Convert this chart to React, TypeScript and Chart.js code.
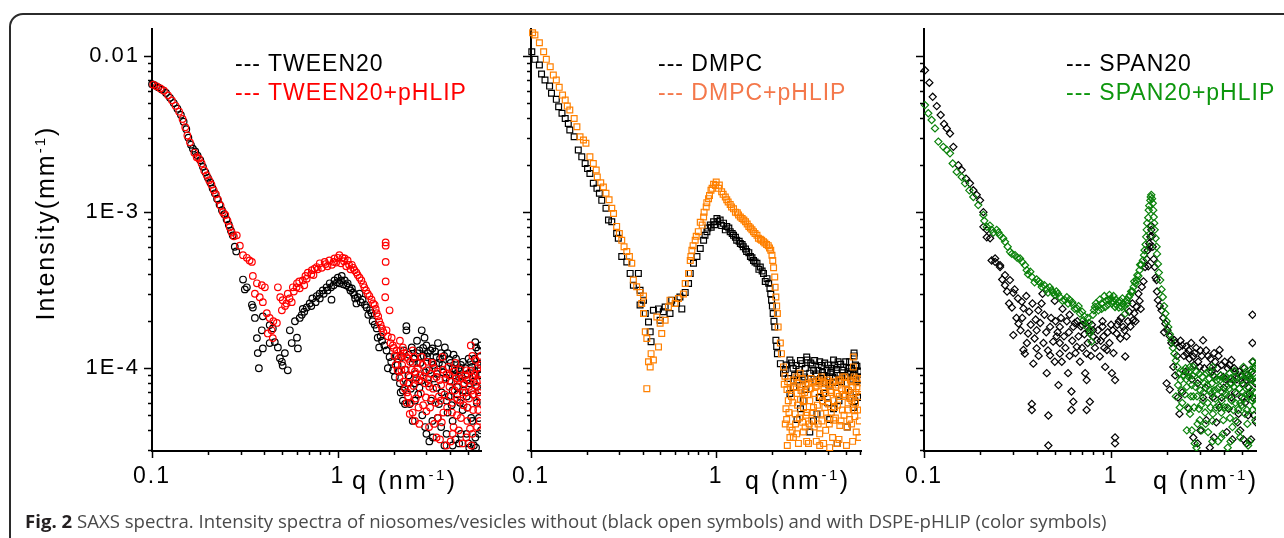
import React, { useEffect, useRef } from 'react';
import { Chart, registerables } from 'chart.js';

Chart.register(...registerables);

const FONT = '"Liberation Sans", Arial, Helvetica, sans-serif';

// ---------- axis data ----------
const yMin = 2.95e-5;
const yMax = 0.0149;
const xMin = 0.1;
const xTickValues = [0.1, 0.2, 0.3, 0.4, 0.5, 0.6, 0.7, 0.8, 0.9, 1, 2, 3, 4, 5, 6];
const xMajorTicks = [0.1, 1];
const xMajorLabels = ['0.1', '1'];
const yTickValues = [
  3e-5, 4e-5, 5e-5, 6e-5, 7e-5, 8e-5, 9e-5,
  1e-4, 2e-4, 3e-4, 4e-4, 5e-4, 6e-4, 7e-4, 8e-4, 9e-4,
  1e-3, 2e-3, 3e-3, 4e-3, 5e-3, 6e-3, 7e-3, 8e-3, 9e-3,
  1e-2,
];
const yMajorTicks = [0.01, 0.001, 0.0001];
const yMajorLabels = ['0.01', '1E-3', '1E-4'];

// ---------- series data: [q (nm^-1), intensity (mm^-1)] ----------
const tweenBlack: [number, number][] = [
  [0.100, 6.6e-3], [0.103, 6.5e-3], [0.108, 6.3e-3], [0.113, 6.1e-3], [0.119, 5.8e-3], [0.125, 5.4e-3],
  [0.131, 5.0e-3], [0.137, 4.6e-3], [0.143, 4.2e-3], [0.148, 3.8e-3], [0.153, 3.4e-3], [0.157, 3.0e-3],
  [0.162, 2.7e-3], [0.166, 2.55e-3], [0.171, 2.45e-3], [0.176, 2.3e-3], [0.182, 2.15e-3], [0.188, 1.95e-3],
  [0.194, 1.8e-3], [0.200, 1.66e-3], [0.206, 1.55e-3], [0.212, 1.42e-3], [0.218, 1.32e-3], [0.224, 1.22e-3],
  [0.231, 1.12e-3], [0.238, 1.03e-3], [0.245, 9.7e-4], [0.252, 9.0e-4], [0.259, 8.3e-4], [0.266, 7.6e-4],
  [0.272, 7.1e-4], [0.279, 6.0e-4], [0.284, 5.6e-4],
  [0.309, 3.7e-4], [0.316, 3.2e-4], [0.324, 3.3e-4], [0.345, 2.55e-4], [0.349, 2.45e-4], [0.358, 2.1e-4],
  [0.367, 1.56e-4], [0.371, 1.25e-4], [0.376, 1.0e-4], [0.390, 1.75e-4], [0.395, 2.15e-4], [0.395, 1.34e-4],
  [0.430, 1.89e-4], [0.430, 1.45e-4], [0.447, 1.8e-4], [0.458, 1.47e-4], [0.476, 1.36e-4], [0.488, 1.16e-4],
  [0.500, 1.1e-4], [0.505, 1.04e-4], [0.519, 1.25e-4], [0.538, 9.7e-5], [0.552, 1.75e-4], [0.565, 1.45e-4],
  [0.588, 2.0e-4], [0.603, 1.57e-4], [0.610, 1.34e-4], [0.624, 2.1e-4], [0.640, 2.2e-4], [0.648, 2.4e-4],
  [0.680, 2.45e-4], [0.706, 2.6e-4], [0.730, 2.8e-4], [0.770, 2.9e-4], [0.798, 3.0e-4], [0.830, 3.15e-4],
  [0.870, 3.3e-4], [0.905, 3.5e-4], [0.925, 2.75e-4], [0.960, 3.65e-4], [1.00, 3.8e-4], [1.05, 3.9e-4],
  [1.09, 3.65e-4], [1.13, 3.5e-4], [1.19, 3.25e-4], [1.23, 2.95e-4], [1.26, 2.6e-4], [1.31, 3.0e-4],
  [1.36, 2.75e-4], [1.43, 2.45e-4], [1.49, 2.35e-4], [1.54, 2.0e-4], [1.62, 1.8e-4], [1.64, 1.57e-4],
  [1.67, 1.36e-4], [1.73, 1.5e-4], [1.83, 1.3e-4], [1.86, 1.0e-4], [1.90, 1.18e-4], [1.98, 9.7e-5],
  [0.95, 3.4e-4], [1.02, 3.5e-4], [1.07, 3.45e-4], [1.15, 3.3e-4], [0.88, 3.15e-4], [0.80, 2.8e-4],
  [1.21, 3.05e-4], [1.28, 2.85e-4],
  [0.66, 2.3e-4], [0.72, 2.5e-4], [0.76, 2.65e-4], [0.84, 3.0e-4], [0.92, 3.3e-4], [0.99, 3.55e-4],
  [1.04, 3.65e-4], [1.11, 3.4e-4], [1.17, 3.15e-4], [1.24, 2.8e-4], [1.33, 2.65e-4], [1.40, 2.55e-4],
  [1.46, 2.2e-4], [1.52, 2.25e-4], [1.58, 1.9e-4], [1.70, 1.6e-4], [1.78, 1.4e-4], [1.94, 1.1e-4],
];

const tweenBlackCloud: [number, number][] = [
  [2.16, 8.0e-5], [2.20, 1.18e-4], [2.24, 6.2e-5], [2.24, 7.2e-5], [2.30, 5.9e-5], [2.34, 1.86e-4],
  [2.34, 1.75e-4], [2.44, 5.9e-5], [2.50, 1.36e-4], [2.53, 1.08e-4], [2.53, 4.6e-5], [2.67, 1.5e-4],
  [2.75, 1.3e-4], [2.75, 7.5e-5], [2.83, 1.75e-4], [2.93, 1.57e-4], [3.00, 1.4e-4], [3.00, 3.8e-5],
  [3.05, 1.25e-4], [3.11, 9.7e-5], [3.11, 3.4e-5], [3.23, 1.34e-4], [3.23, 4.6e-5], [3.40, 1.18e-4],
  [3.40, 7.5e-5], [3.50, 1.08e-4], [3.50, 5.9e-5], [3.77, 1.36e-4], [3.85, 3.8e-5], [3.85, 6.2e-5],
  [3.99, 1.13e-4], [4.15, 1.0e-4], [4.15, 4.6e-5], [4.15, 7.2e-5], [4.30, 9.7e-5], [4.50, 8.8e-5],
  [4.50, 3.3e-5], [4.94, 8.4e-5], [4.94, 3.8e-5], [4.94, 6.6e-5], [5.10, 3.1e-5], [5.30, 9.7e-5],
  [5.30, 4.6e-5], [5.50, 1.47e-4], [5.55, 1.36e-4], [5.50, 3.6e-5], [5.80, 1.18e-4], [5.80, 6.6e-5],
  [2.10, 1.05e-4], [2.40, 9.0e-5], [2.60, 8.0e-5], [2.90, 1.2e-4], [3.20, 1.1e-4], [3.30, 8.6e-5],
  [3.60, 1.25e-4], [3.70, 9.4e-5], [4.00, 8.3e-5], [4.20, 1.22e-4], [4.40, 6.8e-5], [4.60, 1.05e-4],
  [4.70, 5.4e-5], [5.00, 9.2e-5], [5.20, 1.1e-4], [5.40, 8.2e-5], [5.60, 6.0e-5], [5.70, 1.3e-4],
  [5.90, 9.0e-5], [2.60, 6.2e-5], [3.60, 4.2e-5], [4.30, 3.5e-5], [5.40, 3.2e-5], [5.90, 4.0e-5],
  [2.85, 5.0e-5], [3.90, 5.2e-5],
  [2.03, 8.8e-5], [2.08, 1.2e-4], [2.13, 9.5e-5], [2.18, 7.0e-5], [2.27, 1.3e-4], [2.30, 9.8e-5],
  [2.37, 8.0e-5], [2.42, 1.22e-4], [2.47, 7.4e-5], [2.56, 1.15e-4], [2.62, 9.2e-5], [2.68, 1.25e-4],
  [2.71, 6.8e-5], [2.78, 1.08e-4], [2.82, 8.3e-5], [2.88, 1.35e-4], [2.95, 9.4e-5], [3.02, 1.18e-4],
  [3.08, 8.0e-5], [3.15, 1.3e-4], [3.18, 6.2e-5], [3.27, 1.05e-4], [3.34, 1.28e-4], [3.42, 9.2e-5],
  [3.46, 1.45e-4], [3.55, 1.15e-4], [3.62, 7.0e-5], [3.66, 1.05e-4], [3.74, 1.2e-4], [3.82, 8.7e-5],
  [3.90, 1.25e-4], [3.95, 6.6e-5], [4.05, 1.08e-4], [4.10, 5.8e-5], [4.25, 9.0e-5], [4.33, 1.15e-4],
  [4.38, 7.6e-5], [4.46, 1.0e-4], [4.55, 6.0e-5], [4.62, 9.0e-5], [4.72, 1.1e-4], [4.78, 7.2e-5],
  [4.86, 1.0e-4], [4.98, 5.6e-5], [5.06, 1.15e-4], [5.12, 8.0e-5], [5.22, 4.8e-5], [5.28, 1.02e-4],
  [5.35, 6.8e-5], [5.45, 1.15e-4], [5.52, 9.0e-5], [5.62, 7.6e-5], [5.68, 1.05e-4], [5.75, 4.8e-5],
  [5.85, 1.0e-4], [5.88, 1.4e-4], [3.25, 3.6e-5], [3.75, 3.2e-5], [4.60, 3.8e-5], [5.05, 3.3e-5],
  [5.55, 3.1e-5], [5.75, 3.8e-5], [2.95, 4.2e-5], [3.45, 4.8e-5], [4.15, 3.2e-5],
];

const tweenRed: [number, number][] = [
  [0.1015, 6.55e-3], [0.106, 6.4e-3], [0.111, 6.2e-3], [0.116, 6.0e-3], [0.122, 5.6e-3], [0.128, 5.2e-3],
  [0.134, 4.8e-3], [0.140, 4.4e-3], [0.146, 3.95e-3], [0.151, 3.5e-3], [0.155, 3.1e-3], [0.160, 2.8e-3],
  [0.169, 2.4e-3], [0.174, 2.25e-3], [0.179, 2.2e-3], [0.185, 2.05e-3], [0.191, 1.85e-3], [0.197, 1.72e-3],
  [0.203, 1.6e-3], [0.209, 1.5e-3], [0.215, 1.38e-3], [0.221, 1.3e-3], [0.227, 1.2e-3], [0.234, 1.1e-3],
  [0.241, 1.0e-3], [0.248, 9.6e-4], [0.255, 8.8e-4], [0.262, 8.0e-4], [0.269, 7.4e-4], [0.276, 7.0e-4],
  [0.286, 7.1e-4], [0.297, 6.1e-4], [0.309, 5.3e-4], [0.324, 5.1e-4], [0.335, 4.9e-4], [0.345, 4.8e-4],
  [0.349, 3.9e-4], [0.358, 3.0e-4], [0.367, 3.5e-4], [0.380, 2.85e-4], [0.390, 3.4e-4], [0.395, 2.65e-4],
  [0.405, 3.3e-4], [0.415, 2.25e-4], [0.420, 1.67e-4], [0.430, 2.1e-4], [0.440, 1.75e-4], [0.447, 1.56e-4],
  [0.470, 1.95e-4], [0.476, 3.3e-4], [0.490, 2.85e-4], [0.500, 2.35e-4], [0.505, 2.73e-4], [0.530, 2.6e-4],
  [0.538, 3.0e-4], [0.565, 2.65e-4], [0.573, 3.3e-4], [0.603, 3.5e-4], [0.624, 3.25e-4], [0.648, 3.65e-4],
  [0.670, 3.9e-4], [0.690, 4.1e-4], [0.725, 4.25e-4], [0.750, 4.35e-4], [0.770, 4.45e-4], [0.800, 4.7e-4],
  [0.850, 4.8e-4], [0.900, 4.9e-4], [0.960, 5.05e-4], [1.02, 5.3e-4], [1.06, 5.1e-4], [1.09, 5.05e-4],
  [1.13, 4.9e-4], [1.19, 4.6e-4], [1.23, 4.25e-4], [1.28, 3.95e-4], [1.34, 3.65e-4], [1.39, 3.3e-4],
  [1.45, 3.0e-4], [1.52, 2.75e-4], [1.58, 2.55e-4], [1.62, 2.25e-4], [1.67, 2.0e-4], [1.73, 1.8e-4],
  [1.81, 6.4e-4], [1.81, 6.1e-4], [1.81, 4.8e-4], [1.81, 3.6e-4], [1.80, 2.85e-4], [1.83, 1.75e-4],
  [1.90, 2.35e-4], [1.95, 1.57e-4], [1.98, 1.4e-4], [2.07, 1.3e-4],
  [0.82, 4.4e-4], [0.88, 4.5e-4], [0.93, 4.6e-4], [0.98, 4.75e-4], [1.04, 4.7e-4], [1.11, 4.5e-4],
  [1.17, 4.3e-4], [0.74, 3.95e-4], [0.66, 3.4e-4],
  [0.62, 3.6e-4], [0.68, 3.75e-4], [0.72, 4.0e-4], [0.78, 4.3e-4], [0.86, 4.65e-4], [0.95, 4.8e-4],
  [1.00, 5.1e-4], [1.08, 4.85e-4], [1.15, 4.6e-4], [1.21, 4.4e-4], [1.26, 4.1e-4], [1.31, 3.8e-4],
  [1.37, 3.45e-4], [1.42, 3.15e-4], [1.48, 2.9e-4], [1.55, 2.6e-4], [1.60, 2.4e-4], [1.65, 2.15e-4],
  [1.70, 1.9e-4], [1.76, 1.7e-4], [1.86, 1.6e-4], [1.92, 1.45e-4], [2.00, 1.35e-4],
  [0.45, 2.0e-4], [0.52, 2.5e-4], [0.55, 2.8e-4], [0.58, 3.1e-4], [0.60, 3.3e-4],
];

const tweenRedCloud: [number, number][] = [
  [2.16, 1.5e-4], [2.24, 1.36e-4], [2.34, 1.18e-4], [2.20, 9.7e-5], [2.44, 8.8e-5], [2.53, 1.3e-4],
  [2.67, 1.08e-4], [2.75, 8.4e-5], [2.83, 1.18e-4], [3.00, 9.7e-5], [3.11, 7.6e-5], [3.23, 1.08e-4],
  [3.40, 8.8e-5], [3.50, 6.6e-5], [3.65, 1.18e-4], [3.85, 9.2e-5], [3.99, 7.6e-5], [4.15, 6.0e-5],
  [4.30, 1.08e-4], [4.50, 8.4e-5], [4.70, 7.0e-5], [4.94, 9.7e-5], [5.10, 7.6e-5], [5.30, 8.8e-5],
  [5.50, 1.13e-4], [5.80, 9.2e-5], [5.20, 1.4e-4], [5.30, 1.2e-4], [2.44, 5.1e-5], [2.75, 4.4e-5],
  [3.40, 3.6e-5], [3.85, 3.2e-5], [4.15, 3.8e-5], [4.70, 3.3e-5], [5.30, 3.8e-5], [5.80, 4.6e-5],
  [3.00, 5.3e-5], [2.39, 6.6e-5], [2.53, 5.2e-5], [2.30, 7.4e-5], [2.10, 9.7e-5],
  [2.60, 9.5e-5], [2.90, 8.8e-5], [3.20, 6.4e-5], [3.60, 7.8e-5], [3.70, 5.2e-5], [4.00, 9.0e-5],
  [4.40, 6.3e-5], [4.60, 4.8e-5], [4.80, 8.0e-5], [5.00, 5.6e-5], [5.40, 6.8e-5], [5.60, 8.2e-5],
  [5.70, 5.4e-5], [2.20, 1.2e-4], [2.45, 1.1e-4], [3.30, 4.4e-5], [4.20, 4.2e-5], [5.15, 4.1e-5],
  [5.90, 7.3e-5], [5.90, 1.05e-4],
  [2.02, 1.2e-4], [2.05, 1.05e-4], [2.12, 1.15e-4], [2.15, 8.7e-5], [2.18, 1.3e-4], [2.22, 1.05e-4],
  [2.26, 8.2e-5], [2.28, 1.25e-4], [2.32, 9.8e-5], [2.36, 7.0e-5], [2.40, 1.15e-4], [2.42, 8.0e-5],
  [2.47, 6.0e-5], [2.50, 9.8e-5], [2.56, 7.7e-5], [2.58, 1.18e-4], [2.63, 6.4e-5], [2.65, 8.6e-5],
  [2.70, 1.0e-4], [2.72, 5.6e-5], [2.78, 9.0e-5], [2.80, 6.9e-5], [2.86, 1.05e-4], [2.88, 5.8e-5],
  [2.95, 8.0e-5], [2.98, 6.5e-5], [3.04, 1.1e-4], [3.07, 8.5e-5], [3.14, 5.6e-5], [3.17, 9.2e-5],
  [3.26, 7.4e-5], [3.30, 1.0e-4], [3.36, 6.0e-5], [3.44, 9.5e-5], [3.46, 4.8e-5], [3.54, 8.4e-5],
  [3.58, 6.2e-5], [3.63, 4.5e-5], [3.68, 9.8e-5], [3.76, 6.8e-5], [3.80, 8.5e-5], [3.88, 5.6e-5],
  [3.93, 1.02e-4], [4.03, 6.6e-5], [4.08, 8.2e-5], [4.12, 5.2e-5], [4.22, 9.5e-5], [4.26, 7.2e-5],
  [4.35, 8.6e-5], [4.38, 5.0e-5], [4.45, 7.6e-5], [4.55, 9.8e-5], [4.58, 6.2e-5], [4.65, 8.6e-5],
  [4.75, 5.8e-5], [4.85, 9.0e-5], [4.88, 7.0e-5], [4.98, 4.6e-5], [5.04, 8.4e-5], [5.08, 6.4e-5],
  [5.18, 9.6e-5], [5.25, 7.2e-5], [5.35, 5.4e-5], [5.45, 9.2e-5], [5.52, 7.8e-5], [5.58, 6.2e-5],
  [5.65, 1.0e-4], [5.72, 7.0e-5], [5.78, 8.4e-5], [5.85, 6.0e-5], [5.88, 1.2e-4], [3.10, 4.2e-5],
  [3.55, 3.5e-5], [4.05, 3.4e-5], [4.48, 4.0e-5], [4.92, 3.6e-5], [5.25, 3.2e-5], [5.62, 4.2e-5],
  [2.60, 4.6e-5], [2.35, 6.0e-5],
];

const dmpcBlack: [number, number][] = [
  [0.101, 0.01066], [0.105, 0.00952], [0.111, 0.00876], [0.114, 0.00767], [0.119, 0.00702], [0.126, 0.00642],
  [0.129, 0.00577], [0.137, 0.00528], [0.141, 0.00473], [0.147, 0.0043], [0.153, 0.00398], [0.159, 0.0037],
  [0.162, 0.00336], [0.171, 0.00304], [0.180, 0.0025], [0.188, 0.00226], [0.196, 0.00205], [0.202, 0.0019],
  [0.208, 0.00177], [0.217, 0.00153], [0.227, 0.00142], [0.234, 0.00132], [0.241, 0.00119], [0.254, 0.00106],
  [0.262, 8.9e-4], [0.273, 8.67e-4], [0.290, 7.3e-4], [0.296, 6.8e-4], [0.309, 5.2e-4], [0.329, 4.8e-4],
  [0.343, 4.05e-4], [0.380, 4.05e-4], [0.357, 3.4e-4], [0.388, 3.16e-4], [0.405, 2.73e-4], [0.388, 2.54e-4],
  [0.414, 2.24e-4], [0.431, 1.98e-4], [0.458, 2.35e-4], [0.440, 1.71e-4], [0.445, 1.48e-4], [0.488, 2.4e-4],
  [0.498, 2.03e-4], [0.518, 2.3e-4], [0.530, 2.47e-4], [0.563, 2.24e-4], [0.575, 2.73e-4], [0.611, 2.6e-4],
  [0.652, 2.4e-4], [0.637, 2.86e-4], [0.680, 3.06e-4], [0.709, 3.49e-4], [0.724, 4.05e-4], [0.754, 4.7e-4],
  [0.787, 5.2e-4], [0.820, 5.85e-4], [0.855, 6.6e-4], [0.891, 7.5e-4], [0.929, 8.26e-4], [0.968, 8.67e-4],
  [1.009, 9.1e-4], [1.05, 8.9e-4], [1.095, 8.5e-4], [1.14, 8.1e-4], [1.19, 7.5e-4], [1.24, 7.1e-4],
  [1.29, 6.6e-4], [1.35, 6.3e-4], [1.40, 6.0e-4], [1.46, 5.6e-4], [1.53, 5.2e-4], [1.59, 4.9e-4],
  [1.66, 4.7e-4], [1.73, 4.45e-4], [1.80, 4.05e-4], [1.88, 3.75e-4], [1.95, 3.24e-4], [1.99, 2.73e-4],
  [2.03, 2.24e-4], [2.07, 1.84e-4], [2.10, 1.51e-4], [2.14, 1.24e-4], [2.22, 1.07e-4], [2.31, 9.3e-5],
  [0.98, 8.3e-4], [1.02, 8.7e-4], [1.07, 8.2e-4], [1.12, 7.7e-4], [1.17, 7.9e-4], [1.22, 7.3e-4],
  [1.27, 6.9e-4], [1.33, 6.5e-4], [1.38, 6.2e-4], [1.44, 5.8e-4], [1.50, 5.5e-4], [1.56, 5.1e-4],
  [1.62, 4.8e-4], [1.70, 4.3e-4], [1.77, 4.2e-4], [1.84, 3.6e-4], [1.92, 3.5e-4], [1.97, 3.0e-4],
  [2.01, 2.5e-4], [2.05, 2.0e-4], [2.12, 1.38e-4], [0.94, 8.0e-4], [0.90, 7.9e-4], [0.87, 7.1e-4],
];

const dmpcBlackCloud: [number, number][] = [
  [2.50, 1.13e-4], [2.60, 1.0e-4], [2.73, 8.4e-5], [2.90, 1.07e-4], [3.10, 1.13e-4], [3.20, 9.3e-5],
  [3.36, 9.7e-5], [3.55, 9.7e-5], [3.80, 9.0e-5], [3.97, 9.7e-5], [4.10, 8.8e-5], [4.30, 1.13e-4],
  [4.50, 9.3e-5], [4.60, 8.4e-5], [4.80, 9.7e-5], [5.10, 8.8e-5], [5.30, 9.3e-5], [5.55, 1.25e-4],
  [5.60, 9.3e-5], [5.90, 8.4e-5], [2.50, 6.9e-5], [2.95, 6.2e-5], [3.50, 5.1e-5], [3.80, 6.9e-5],
  [4.10, 4.7e-5], [4.60, 6.2e-5], [5.10, 4.2e-5], [5.50, 5.6e-5], [3.20, 3.9e-5], [4.50, 3.3e-5],
  [2.73, 4.7e-5], [2.40, 1.05e-4], [2.65, 9.0e-5], [2.80, 9.8e-5], [3.00, 8.8e-5], [3.30, 1.05e-4],
  [3.45, 8.2e-5], [3.70, 1.04e-4], [3.90, 8.0e-5], [4.20, 1.0e-4], [4.40, 8.1e-5], [4.70, 1.06e-4],
  [4.95, 9.0e-5], [5.20, 1.0e-4], [5.45, 8.5e-5], [5.75, 1.03e-4], [5.95, 9.5e-5], [3.05, 7.3e-5],
  [4.00, 6.0e-5], [5.30, 7.0e-5], [5.80, 6.5e-5],
  [2.36, 9.8e-5], [2.45, 8.6e-5], [2.55, 1.08e-4], [2.62, 7.6e-5], [2.70, 1.04e-4], [2.77, 9.2e-5],
  [2.85, 1.12e-4], [2.93, 8.4e-5], [3.03, 1.0e-4], [3.08, 1.18e-4], [3.14, 8.6e-5], [3.24, 1.08e-4],
  [3.40, 1.12e-4], [3.48, 9.2e-5], [3.62, 1.1e-4], [3.66, 8.6e-5], [3.75, 9.4e-5], [3.85, 1.08e-4],
  [4.02, 1.05e-4], [4.06, 7.8e-5], [4.15, 9.4e-5], [4.25, 8.8e-5], [4.35, 1.05e-4], [4.45, 9.8e-5],
  [4.55, 1.1e-4], [4.66, 9.0e-5], [4.75, 8.2e-5], [4.88, 1.02e-4], [5.00, 1.1e-4], [5.05, 8.0e-5],
  [5.15, 9.5e-5], [5.25, 1.1e-4], [5.38, 1.0e-4], [5.50, 9.0e-5], [5.65, 1.05e-4], [5.70, 8.2e-5],
  [5.85, 9.6e-5], [5.55, 1.2e-4], [3.60, 6.5e-5], [4.30, 5.5e-5], [4.90, 6.6e-5], [5.60, 6.2e-5],
  [2.85, 5.5e-5], [3.35, 4.6e-5],
];

const dmpcOrange: [number, number][] = [
  [0.102, 0.0141], [0.105, 0.01365], [0.111, 0.01217], [0.117, 0.01066], [0.121, 0.00952], [0.127, 0.00854],
  [0.132, 0.00755], [0.137, 0.00702], [0.142, 0.0063], [0.148, 0.00562], [0.153, 0.00522], [0.157, 0.00478],
  [0.162, 0.00451], [0.171, 0.00398], [0.177, 0.00352], [0.184, 0.00304], [0.192, 0.0029], [0.198, 0.00276],
  [0.208, 0.00226], [0.217, 0.00205], [0.225, 0.00186], [0.228, 0.00168], [0.238, 0.00154], [0.246, 0.00145],
  [0.254, 0.00132], [0.264, 0.0012], [0.273, 0.00106], [0.279, 9.8e-4], [0.290, 8.1e-4], [0.300, 7.3e-4],
  [0.309, 6.6e-4], [0.318, 6.0e-4], [0.329, 5.6e-4], [0.340, 5.2e-4], [0.350, 4.7e-4],
  [0.357, 3.67e-4], [0.372, 3.33e-4], [0.388, 3.06e-4], [0.405, 2.9e-4], [0.396, 2.6e-4], [0.405, 2.24e-4],
  [0.414, 1.71e-4], [0.422, 1.55e-4], [0.445, 1.24e-4], [0.431, 1.1e-4], [0.440, 1.02e-4], [0.422, 7.4e-5],
  [0.458, 1.13e-4], [0.488, 1.37e-4], [0.508, 1.67e-4], [0.478, 2.13e-4], [0.498, 1.94e-4], [0.530, 2.03e-4],
  [0.552, 2.47e-4], [0.563, 2.73e-4], [0.600, 2.6e-4], [0.625, 2.8e-4], [0.665, 2.99e-4], [0.680, 3.49e-4],
  [0.709, 4.05e-4], [0.724, 4.9e-4], [0.739, 5.7e-4], [0.770, 6.6e-4], [0.800, 7.5e-4], [0.840, 8.26e-4],
  [0.855, 9.3e-4], [0.883, 1.08e-3], [0.909, 1.22e-3], [0.937, 1.38e-3], [0.968, 1.51e-3], [1.00, 1.56e-3],
  [1.04, 1.49e-3], [1.07, 1.35e-3], [1.12, 1.25e-3], [1.16, 1.16e-3], [1.21, 1.08e-3], [1.27, 1.0e-3],
  [1.32, 9.6e-4], [1.38, 9.1e-4], [1.44, 8.67e-4], [1.50, 8.1e-4], [1.56, 7.7e-4], [1.62, 7.3e-4],
  [1.69, 6.8e-4], [1.76, 6.6e-4], [1.83, 6.35e-4], [1.91, 6.1e-4], [1.97, 5.7e-4], [2.02, 4.9e-4],
  [2.07, 3.84e-4], [2.10, 2.86e-4], [2.14, 2.24e-4], [2.16, 1.84e-4], [2.22, 1.45e-4], [2.25, 1.24e-4],
  [2.31, 1.02e-4],
  [0.99, 1.48e-3], [1.03, 1.42e-3], [1.09, 1.3e-3], [1.14, 1.2e-3], [1.19, 1.12e-3], [1.24, 1.05e-3],
  [1.30, 9.9e-4], [1.35, 9.3e-4], [1.41, 8.9e-4], [1.47, 8.4e-4], [1.53, 7.9e-4], [1.59, 7.5e-4],
  [1.66, 7.1e-4], [1.73, 6.7e-4], [1.80, 6.45e-4], [1.87, 6.2e-4], [1.94, 5.9e-4], [2.00, 5.3e-4],
  [2.04, 4.4e-4], [2.08, 3.3e-4], [2.12, 2.5e-4], [0.95, 1.42e-3], [0.92, 1.28e-3], [0.89, 1.15e-3],
  [0.86, 1.0e-3], [0.82, 8.6e-4], [0.78, 7.0e-4], [0.75, 6.1e-4], [0.73, 5.2e-4],
];

const dmpcOrangeCloud: [number, number][] = [
  [2.41, 7.3e-5], [2.45, 6.2e-5], [2.50, 4.2e-5], [2.50, 3.6e-5], [2.61, 8.4e-5], [2.67, 5.1e-5],
  [2.73, 6.9e-5], [2.78, 3.3e-5], [2.90, 7.6e-5], [2.96, 5.6e-5], [3.02, 4.2e-5], [3.15, 8.0e-5],
  [3.20, 6.2e-5], [3.28, 4.65e-5], [3.40, 6.9e-5], [3.47, 3.4e-5], [3.60, 8.4e-5], [3.67, 5.1e-5],
  [3.82, 7.3e-5], [3.90, 4.0e-5], [4.04, 5.9e-5], [4.13, 8.0e-5], [4.30, 4.65e-5], [4.45, 6.9e-5],
  [4.50, 3.3e-5], [4.70, 8.4e-5], [4.80, 5.4e-5], [5.00, 7.3e-5], [5.10, 4.2e-5], [5.30, 8.4e-5],
  [5.40, 6.2e-5], [5.50, 1.18e-4], [5.50, 1.02e-4], [5.60, 4.9e-5], [5.75, 7.6e-5], [5.90, 3.6e-5],
  [5.95, 6.6e-5], [2.84, 9.3e-5], [3.70, 8.8e-5], [3.08, 3.4e-5], [2.61, 3.6e-5],
  [2.35, 8.9e-5], [2.38, 5.5e-5], [2.55, 6.6e-5], [2.70, 8.8e-5], [2.85, 6.3e-5], [3.00, 7.0e-5],
  [3.10, 5.2e-5], [3.25, 8.6e-5], [3.35, 5.6e-5], [3.50, 7.7e-5], [3.55, 4.4e-5], [3.75, 6.2e-5],
  [3.95, 8.0e-5], [4.00, 4.8e-5], [4.20, 7.0e-5], [4.35, 5.6e-5], [4.55, 7.8e-5], [4.65, 4.3e-5],
  [4.85, 6.8e-5], [4.95, 8.8e-5], [5.15, 6.0e-5], [5.25, 4.7e-5], [5.45, 7.6e-5], [5.65, 6.0e-5],
  [5.85, 8.6e-5], [5.70, 3.9e-5], [3.80, 3.3e-5], [4.25, 3.6e-5], [2.95, 3.9e-5], [2.40, 4.7e-5],
  [2.33, 7.9e-5], [2.36, 4.4e-5], [2.43, 8.2e-5], [2.47, 5.2e-5], [2.52, 7.4e-5], [2.57, 4.0e-5],
  [2.59, 6.0e-5], [2.64, 7.6e-5], [2.68, 4.4e-5], [2.75, 5.8e-5], [2.76, 8.0e-5], [2.82, 4.8e-5],
  [2.87, 7.2e-5], [2.92, 8.6e-5], [2.93, 4.5e-5], [2.99, 6.2e-5], [3.04, 7.8e-5], [3.06, 5.0e-5],
  [3.12, 6.8e-5], [3.18, 4.4e-5], [3.22, 7.4e-5], [3.30, 5.2e-5], [3.32, 8.2e-5], [3.38, 4.2e-5],
  [3.43, 7.6e-5], [3.52, 5.8e-5], [3.58, 8.0e-5], [3.62, 3.8e-5], [3.65, 6.6e-5], [3.72, 4.6e-5],
  [3.78, 8.2e-5], [3.86, 5.6e-5], [3.88, 7.0e-5], [3.98, 6.4e-5], [4.02, 8.4e-5], [4.08, 4.4e-5],
  [4.15, 7.2e-5], [4.18, 5.2e-5], [4.28, 8.2e-5], [4.32, 6.2e-5], [4.40, 4.8e-5], [4.42, 7.6e-5],
  [4.52, 5.8e-5], [4.58, 8.4e-5], [4.62, 6.6e-5], [4.72, 4.6e-5], [4.75, 7.4e-5], [4.82, 8.8e-5],
  [4.90, 5.0e-5], [4.98, 6.6e-5], [5.05, 8.0e-5], [5.12, 5.4e-5], [5.18, 7.2e-5], [5.28, 6.4e-5],
  [5.35, 8.2e-5], [5.38, 4.4e-5], [5.48, 6.8e-5], [5.55, 8.8e-5], [5.58, 5.4e-5], [5.68, 7.0e-5],
  [5.72, 8.6e-5], [5.80, 5.4e-5], [5.88, 7.4e-5], [5.92, 4.6e-5], [3.15, 3.3e-5], [3.62, 3.2e-5],
  [4.10, 3.1e-5], [4.60, 3.5e-5], [5.05, 3.2e-5], [5.45, 3.4e-5], [2.72, 3.8e-5], [2.42, 3.2e-5],
];

const spanBlack: [number, number][] = [
  [0.1012, 8.1e-3], [0.1068, 6.75e-3], [0.1113, 5.48e-3], [0.117, 4.78e-3], [0.1228, 4.19e-3], [0.128, 3.67e-3],
  [0.1323, 3.44e-3], [0.1377, 3.19e-3], [0.1435, 2.62e-3], [0.1526, 2.0e-3], [0.159, 1.86e-3], [0.1677, 1.64e-3],
  [0.176, 1.53e-3], [0.1835, 1.38e-3], [0.1913, 1.29e-3], [0.1993, 1.19e-3], [0.2077, 1.0e-3], [0.2077, 8.05e-4],
  [0.2165, 7.7e-4], [0.2165, 6.9e-4], [0.2256, 6.8e-4], [0.23, 4.9e-4], [0.24, 5.05e-4], [0.24, 4.8e-4],
  [0.255, 4.57e-4], [0.255, 4.45e-4],
  [0.271, 3.95e-4], [0.288, 3.67e-4], [0.271, 3.4e-4], [0.300, 3.04e-4], [0.333, 2.67e-4], [0.340, 2.42e-4],
  [0.408, 2.35e-4], [0.320, 1.93e-4], [0.300, 1.63e-4], [0.340, 1.31e-4], [0.346, 1.24e-4], [0.360, 1.67e-4],
  [0.400, 1.75e-4], [0.400, 1.34e-4], [0.384, 1.07e-4], [0.453, 9.3e-5], [0.462, 4.98e-5], [0.377, 5.9e-5],
  [0.377, 5.4e-5], [0.462, 3.2e-5], [0.472, 1.84e-4], [0.512, 1.6e-4], [0.532, 1.45e-4], [0.532, 1.24e-4],
  [0.472, 1.21e-4], [0.523, 7.8e-5], [0.589, 9.3e-5], [0.614, 7.1e-5], [0.628, 6.1e-5], [0.614, 5.4e-5],
  [0.656, 1.37e-4], [0.682, 1.1e-4], [0.740, 1.24e-4], [0.727, 9.3e-5], [0.740, 8.4e-5], [0.770, 6.1e-5],
  [0.740, 5.4e-5], [0.840, 1.51e-4], [0.870, 1.19e-4], [0.930, 1.02e-4], [0.950, 1.31e-4], [1.01, 9.3e-5],
  [1.05, 8.4e-5], [1.05, 3.6e-5], [1.05, 3.3e-5], [1.19, 1.19e-4], [0.628, 1.84e-4], [0.532, 1.84e-4],
  [0.727, 1.93e-4], [0.800, 1.6e-4], [0.910, 1.6e-4], [1.07, 1.67e-4], [1.16, 1.84e-4], [1.21, 1.6e-4],
  [1.31, 2.03e-4], [1.37, 2.47e-4], [1.46, 3.32e-4], [1.52, 4.45e-4], [1.57, 5.7e-4], [1.62, 6.95e-4],
  [1.64, 7.7e-4], [1.635, 8.2e-4], [1.60, 6.3e-4], [1.65, 7.0e-4], [1.67, 6.0e-4], [1.71, 4.45e-4],
  [1.75, 3.67e-4], [1.78, 2.73e-4], [1.86, 2.35e-4], [1.95, 1.93e-4], [2.06, 1.6e-4], [2.18, 1.51e-4],
  [0.43, 3.0e-4], [0.50, 2.7e-4], [0.55, 2.4e-4], [0.60, 2.2e-4], [0.66, 2.0e-4], [0.70, 1.9e-4],
  [0.80, 1.75e-4], [0.90, 1.85e-4], [1.00, 1.9e-4], [1.10, 2.0e-4], [1.25, 2.3e-4], [1.30, 2.6e-4],
  [1.40, 3.0e-4],
  [0.262, 3.7e-4], [0.278, 3.1e-4], [0.285, 2.6e-4], [0.295, 2.45e-4], [0.305, 3.2e-4], [0.312, 2.1e-4],
  [0.318, 2.8e-4], [0.328, 1.75e-4], [0.335, 2.1e-4], [0.352, 2.9e-4], [0.355, 1.45e-4], [0.365, 2.3e-4],
  [0.372, 1.9e-4], [0.38, 2.6e-4], [0.39, 1.55e-4], [0.395, 2.05e-4], [0.41, 1.2e-4], [0.418, 1.95e-4],
  [0.425, 2.6e-4], [0.435, 1.45e-4], [0.44, 2.2e-4], [0.45, 1.7e-4], [0.46, 1.3e-4], [0.478, 2.1e-4],
  [0.49, 1.48e-4], [0.5, 1.1e-4], [0.505, 2.0e-4], [0.518, 1.7e-4], [0.54, 2.1e-4], [0.545, 1.1e-4],
  [0.56, 1.6e-4], [0.57, 1.35e-4], [0.58, 2.0e-4], [0.595, 1.7e-4], [0.6, 1.2e-4], [0.62, 1.5e-4],
  [0.64, 1.95e-4], [0.645, 1.25e-4], [0.67, 1.6e-4], [0.69, 1.85e-4], [0.7, 1.35e-4], [0.72, 1.65e-4],
  [0.75, 1.45e-4], [0.76, 1.75e-4], [0.78, 1.2e-4], [0.79, 1.9e-4], [0.82, 1.35e-4], [0.85, 1.75e-4],
  [0.88, 1.5e-4], [0.9, 2.0e-4], [0.92, 1.35e-4], [0.96, 1.7e-4], [0.98, 1.45e-4], [1.02, 1.75e-4],
  [1.03, 1.25e-4], [1.08, 1.9e-4], [1.12, 1.55e-4], [1.13, 2.1e-4], [1.18, 1.75e-4], [1.23, 2.0e-4],
  [1.27, 1.85e-4], [1.33, 2.25e-4], [1.35, 2.0e-4], [1.42, 2.7e-4], [1.44, 2.4e-4], [1.49, 3.6e-4],
  [1.55, 5.0e-4], [1.58, 4.5e-4], [1.61, 6.0e-4], [1.69, 5.0e-4], [1.73, 3.8e-4], [1.76, 3.1e-4],
  [1.82, 2.5e-4], [1.90, 2.1e-4], [1.92, 1.7e-4], [2.00, 1.75e-4], [2.10, 1.45e-4],
];

const spanBlackCloud: [number, number][] = [
  [2.32, 1.37e-4], [2.54, 1.24e-4], [2.75, 1.19e-4], [3.10, 1.51e-4], [2.98, 1.02e-4], [3.37, 1.02e-4],
  [3.80, 1.31e-4], [3.98, 8.8e-5], [4.40, 1.13e-4], [4.50, 8.4e-5], [5.70, 2.2e-4], [5.70, 1.45e-4],
  [5.70, 1.1e-4], [5.30, 8.4e-5], [1.98, 8.0e-5], [2.32, 5.1e-5], [2.75, 3.6e-5], [3.23, 4.65e-5],
  [3.80, 5.6e-5], [4.15, 3.9e-5], [4.80, 5.1e-5], [5.30, 3.3e-5], [5.50, 6.9e-5], [3.37, 3.1e-5],
  [2.15, 1.02e-4], [2.06, 7.3e-5],
  [2.20, 1.45e-4], [2.40, 1.4e-4], [2.60, 1.3e-4], [2.80, 1.25e-4], [3.00, 1.3e-4], [3.30, 1.2e-4],
  [3.60, 1.1e-4], [3.90, 1.05e-4], [4.20, 1.0e-4], [4.60, 9.5e-5], [5.00, 9.0e-5], [5.50, 8.5e-5],
  [5.90, 8.0e-5], [3.50, 9.0e-5], [4.00, 7.5e-5], [4.40, 6.5e-5], [5.20, 6.0e-5], [5.80, 5.0e-5],
  [4.90, 4.0e-5], [5.60, 3.5e-5], [2.50, 9.5e-5], [2.90, 8.0e-5], [3.10, 6.5e-5],
  [2.25, 1.2e-4], [2.35, 1.5e-4], [2.45, 1.2e-4], [2.52, 1.38e-4], [2.62, 1.15e-4], [2.68, 1.45e-4],
  [2.78, 1.05e-4], [2.85, 1.35e-4], [2.92, 1.1e-4], [3.05, 1.2e-4], [3.15, 1.0e-4], [3.22, 1.3e-4],
  [3.40, 1.15e-4], [3.45, 9.5e-5], [3.55, 1.25e-4], [3.70, 1.0e-4], [3.75, 1.2e-4], [3.85, 9.0e-5],
  [4.05, 1.1e-4], [4.10, 8.5e-5], [4.30, 1.05e-4], [4.35, 8.0e-5], [4.55, 1.0e-4], [4.70, 8.5e-5],
  [4.85, 9.5e-5], [5.05, 8.0e-5], [5.15, 1.0e-4], [5.35, 9.0e-5], [5.45, 7.5e-5], [5.65, 9.5e-5],
  [5.85, 1.0e-4], [2.40, 7.0e-5], [2.60, 5.5e-5], [2.70, 8.5e-5], [3.00, 4.0e-5], [3.20, 7.5e-5],
  [3.50, 6.5e-5], [3.65, 4.5e-5], [3.90, 6.5e-5], [4.25, 5.5e-5], [4.60, 7.0e-5], [4.75, 4.5e-5],
  [5.00, 6.5e-5], [5.40, 5.0e-5], [5.70, 6.5e-5], [5.95, 4.5e-5], [4.45, 3.5e-5], [5.10, 3.5e-5],
  [2.20, 9.0e-5], [2.28, 6.5e-5], [2.90, 3.3e-5], [3.55, 3.6e-5],
];

const spanGreen: [number, number][] = [
  [0.1012, 4.85e-3], [0.1054, 4.3e-3], [0.1099, 3.89e-3], [0.1145, 3.44e-3], [0.1193, 2.83e-3], [0.1268, 2.62e-3],
  [0.1323, 2.5e-3], [0.1377, 2.38e-3], [0.1424, 2.05e-3], [0.1496, 1.81e-3], [0.159, 1.68e-3], [0.1657, 1.53e-3],
  [0.1747, 1.38e-3], [0.1835, 1.25e-3], [0.195, 1.11e-3], [0.2077, 9.6e-4], [0.2165, 8.05e-4], [0.23, 7.7e-4],
  [0.2446, 7.7e-4], [0.255, 7.1e-4], [0.271, 6.45e-4], [0.2883, 5.57e-4], [0.3066, 5.3e-4], [0.326, 5.05e-4],
  [0.3467, 4.57e-4],
  [0.354, 4.25e-4], [0.377, 3.85e-4], [0.400, 3.7e-4], [0.426, 3.32e-4], [0.453, 3.22e-4], [0.481, 3.16e-4],
  [0.501, 2.94e-4], [0.532, 2.86e-4], [0.567, 2.73e-4], [0.589, 2.6e-4], [0.628, 2.54e-4], [0.656, 2.42e-4],
  [0.682, 2.24e-4], [0.710, 2.03e-4], [0.740, 1.84e-4], [0.770, 1.67e-4], [0.786, 1.48e-4], [0.820, 2.47e-4],
  [0.855, 2.35e-4], [0.890, 2.6e-4], [0.930, 2.47e-4], [0.970, 2.73e-4], [1.01, 2.6e-4], [1.05, 2.47e-4],
  [1.09, 2.67e-4], [1.14, 2.47e-4], [1.19, 2.24e-4], [1.21, 2.73e-4], [1.26, 2.94e-4], [1.32, 3.32e-4],
  [1.37, 3.67e-4], [1.42, 4.25e-4], [1.48, 4.9e-4], [1.51, 5.7e-4], [1.54, 6.95e-4], [1.56, 8.5e-4],
  [1.59, 1.03e-3], [1.62, 1.19e-3], [1.64, 1.29e-3], [1.67, 1.14e-3], [1.69, 9.3e-4], [1.71, 7.7e-4],
  [1.75, 6.0e-4], [1.78, 4.66e-4], [1.83, 3.67e-4], [1.89, 2.86e-4], [1.95, 2.24e-4], [2.02, 1.84e-4],
  [2.10, 1.51e-4], [2.18, 1.24e-4], [2.26, 1.02e-4], [2.35, 8.4e-5],
  [0.36, 4.0e-4], [0.39, 3.55e-4], [0.42, 3.5e-4], [0.46, 3.05e-4], [0.52, 3.0e-4], [0.55, 2.7e-4],
  [0.60, 2.75e-4], [0.64, 2.4e-4], [0.70, 2.3e-4], [0.75, 2.1e-4], [0.80, 2.2e-4], [0.83, 2.6e-4],
  [0.87, 2.75e-4], [0.92, 2.9e-4], [0.96, 2.55e-4], [1.00, 2.8e-4], [1.03, 2.9e-4], [1.07, 2.55e-4],
  [1.12, 2.7e-4], [1.16, 2.6e-4], [1.24, 2.85e-4], [1.30, 3.1e-4], [1.35, 3.5e-4], [1.40, 3.9e-4],
  [1.45, 4.6e-4], [1.50, 5.3e-4], [1.53, 6.2e-4], [1.55, 7.7e-4], [1.58, 9.2e-4], [1.60, 1.1e-3],
  [1.63, 1.25e-3], [1.655, 1.22e-3], [1.68, 1.03e-3], [1.70, 8.5e-4], [1.73, 6.8e-4], [1.76, 5.4e-4],
  [1.80, 4.1e-4], [1.86, 3.2e-4], [1.92, 2.5e-4], [1.98, 2.0e-4], [2.06, 1.65e-4], [2.14, 1.35e-4],
  [2.22, 1.12e-4], [2.30, 9.2e-5],
  [0.21, 8.8e-4], [0.225, 8.2e-4], [0.235, 7.4e-4], [0.25, 7.4e-4], [0.265, 6.8e-4], [0.28, 6.0e-4],
  [0.295, 5.4e-4], [0.315, 5.1e-4], [0.335, 4.8e-4], [0.37, 4.15e-4], [0.41, 3.6e-4], [0.44, 3.4e-4],
  [0.47, 3.3e-4], [0.49, 3.05e-4], [0.51, 3.1e-4], [0.58, 2.85e-4], [0.62, 2.65e-4], [0.67, 2.5e-4],
  [0.72, 2.15e-4], [0.76, 1.95e-4], [0.78, 1.75e-4], [0.81, 2.35e-4], [0.85, 2.5e-4], [0.89, 2.4e-4],
  [0.94, 2.7e-4], [0.98, 2.95e-4], [1.02, 2.7e-4], [1.06, 2.75e-4], [1.10, 2.45e-4], [1.15, 2.8e-4],
  [1.18, 2.5e-4], [1.22, 2.6e-4], [1.28, 3.1e-4], [1.33, 3.6e-4], [1.38, 3.95e-4], [1.43, 4.6e-4],
];

const spanGreenCloud: [number, number][] = [
  [2.54, 7.6e-5], [2.64, 5.1e-5], [2.75, 6.6e-5], [2.80, 3.3e-5], [2.92, 8.4e-5], [2.98, 4.65e-5],
  [3.10, 6.2e-5], [3.23, 9.3e-5], [3.30, 3.9e-5], [3.44, 6.9e-5], [3.50, 5.1e-5], [3.67, 8.4e-5],
  [3.73, 3.4e-5], [3.90, 6.2e-5], [3.98, 4.65e-5], [4.15, 7.6e-5], [4.20, 3.1e-5], [4.30, 9.3e-5],
  [4.50, 5.4e-5], [4.70, 6.9e-5], [4.80, 3.9e-5], [5.00, 8.4e-5], [5.10, 1.02e-4], [5.20, 5.1e-5],
  [5.40, 7.6e-5], [5.50, 3.4e-5], [5.65, 6.2e-5], [5.80, 9.3e-5], [5.90, 4.65e-5], [2.75, 1.02e-4],
  [3.50, 1.02e-4], [2.22, 6.6e-5], [2.54, 4.0e-5], [2.86, 3.1e-5], [2.64, 1.02e-4],
  [2.45, 9.0e-5], [2.60, 8.8e-5], [2.70, 7.8e-5], [2.85, 9.5e-5], [3.00, 7.2e-5], [3.15, 8.0e-5],
  [3.35, 8.6e-5], [3.40, 5.6e-5], [3.60, 6.4e-5], [3.80, 7.6e-5], [3.85, 9.0e-5], [4.05, 5.6e-5],
  [4.25, 6.6e-5], [4.40, 8.0e-5], [4.60, 8.8e-5], [4.65, 4.6e-5], [4.90, 6.0e-5], [5.05, 7.0e-5],
  [5.30, 9.0e-5], [5.35, 4.4e-5], [5.55, 8.5e-5], [5.70, 5.4e-5], [5.85, 7.0e-5], [5.95, 1.05e-4],
  [5.75, 1.1e-4], [3.20, 4.4e-5], [3.95, 3.8e-5], [4.45, 4.2e-5], [2.40, 6.0e-5], [2.50, 1.0e-4],
  [2.95, 5.5e-5], [3.05, 4.0e-5],
  [2.38, 7.2e-5], [2.42, 9.6e-5], [2.48, 6.8e-5], [2.52, 8.5e-5], [2.57, 5.6e-5], [2.62, 9.4e-5],
  [2.67, 6.6e-5], [2.72, 9.0e-5], [2.78, 5.6e-5], [2.82, 7.6e-5], [2.88, 6.6e-5], [2.90, 4.4e-5],
  [2.96, 9.2e-5], [3.02, 5.8e-5], [3.07, 8.8e-5], [3.12, 7.0e-5], [3.18, 5.2e-5], [3.26, 7.8e-5],
  [3.28, 6.0e-5], [3.33, 9.5e-5], [3.38, 7.2e-5], [3.46, 8.0e-5], [3.48, 4.6e-5], [3.55, 7.2e-5],
  [3.58, 8.8e-5], [3.64, 5.6e-5], [3.70, 7.4e-5], [3.76, 5.8e-5], [3.82, 8.4e-5], [3.88, 5.2e-5],
  [3.93, 7.0e-5], [4.00, 8.6e-5], [4.08, 6.8e-5], [4.12, 8.8e-5], [4.18, 5.6e-5], [4.28, 7.4e-5],
  [4.32, 4.8e-5], [4.36, 8.6e-5], [4.42, 6.2e-5], [4.52, 7.6e-5], [4.56, 9.6e-5], [4.62, 6.0e-5],
  [4.72, 8.0e-5], [4.78, 5.4e-5], [4.85, 7.4e-5], [4.95, 9.0e-5], [5.00, 5.8e-5], [5.08, 7.8e-5],
  [5.15, 6.4e-5], [5.22, 9.2e-5], [5.26, 6.8e-5], [5.32, 5.4e-5], [5.45, 8.8e-5], [5.48, 6.6e-5],
  [5.58, 9.8e-5], [5.62, 7.2e-5], [5.68, 8.4e-5], [5.78, 6.4e-5], [5.82, 1.0e-4], [5.90, 8.2e-5],
  [5.92, 5.8e-5], [3.48, 3.4e-5], [3.88, 3.6e-5], [4.35, 3.4e-5], [4.90, 3.6e-5], [5.40, 3.2e-5],
  [2.70, 4.0e-5], [2.33, 5.6e-5], [2.28, 7.8e-5],
];

const seriesLabels = [
  ['TWEEN20', 'TWEEN20+pHLIP'],
  ['DMPC', 'DMPC+pHLIP'],
  ['SPAN20', 'SPAN20+pHLIP'],
];

// ---------- layout / style (not data) ----------
const PANELS = [
  {
    left: 0, width: 490, axisWidth: 152, padRight: 9, xMax: 5.9, showYLabels: true,
    legendX: 235, titleX: 352, style: 'circle', r: 3.3,
    colors: ['#000000', '#ff0000'], legendColors: ['#000000', '#ff0000'],
    data: [tweenBlack.concat(tweenBlackCloud), tweenRed.concat(tweenRedCloud)], labels: seriesLabels[0],
  },
  {
    left: 490, width: 380, axisWidth: 41, padRight: 9, xMax: 6.05, showYLabels: false,
    legendX: 658, titleX: 745, style: 'rect', r: 4.1,
    colors: ['#000000', '#ff8000'], legendColors: ['#000000', '#f4784b'],
    data: [dmpcBlack.concat(dmpcBlackCloud), dmpcOrange.concat(dmpcOrangeCloud)], labels: seriesLabels[1],
  },
  {
    left: 880, width: 404, axisWidth: 44, padRight: 28, xMax: 5.95, showYLabels: false,
    legendX: 1066, titleX: 1153, style: 'rectRot', r: 3.6,
    colors: ['#000000', '#0a820a'], legendColors: ['#000000', '#0d960d'],
    data: [spanBlack.concat(spanBlackCloud), spanGreen.concat(spanGreenCloud)], labels: seriesLabels[2],
  },
];

const near = (v: number, list: number[]) => list.findIndex((m) => Math.abs(v - m) / m < 1e-6);

const letterSpacingPlugin = {
  id: 'letterSpacing',
  beforeDraw(chart: any) {
    (chart.ctx as any).letterSpacing = '2px';
  },
};

const tickMarksPlugin = {
  id: 'tickMarks',
  afterDraw(chart: any) {
    const { ctx } = chart;
    const xs = chart.scales.x;
    const ys = chart.scales.y;
    ctx.save();
    ctx.strokeStyle = '#000';
    ctx.lineWidth = 1.5;
    ctx.beginPath();
    xs.ticks.forEach((t: any) => {
      const px = Math.round(xs.getPixelForValue(t.value)) + 0.5;
      const len = near(t.value, xMajorTicks) >= 0 ? 7 : 4;
      ctx.moveTo(px, xs.top);
      ctx.lineTo(px, xs.top + len);
    });
    ys.ticks.forEach((t: any) => {
      const py = Math.round(ys.getPixelForValue(t.value)) + 0.5;
      const len = near(t.value, yMajorTicks) >= 0 ? 8 : 4;
      ctx.moveTo(ys.right, py);
      ctx.lineTo(ys.right - len, py);
    });
    ctx.stroke();
    ctx.restore();
  },
};

function Panel({ p }: { p: any }) {
  const ref = useRef<HTMLCanvasElement>(null);
  useEffect(() => {
    if (!ref.current) return;
    const datasets = [1, 0].map((i) => ({
      label: p.labels[i],
      data: p.data[i].map(([q, v]: [number, number]) => ({ x: q, y: v })),
      showLine: false,
      pointStyle: p.style,
      pointRadius: p.r,
      pointHoverRadius: p.r,
      pointBorderWidth: 1.2,
      borderWidth: 1.2,
      borderColor: p.colors[i],
      pointBorderColor: p.colors[i],
      backgroundColor: 'rgba(0,0,0,0)',
      pointBackgroundColor: 'rgba(0,0,0,0)',
      clip: { left: 4, top: 4, right: 0, bottom: 0 },
    }));
    const chart = new Chart(ref.current, {
      type: 'scatter',
      data: { datasets },
      options: {
        animation: false,
        responsive: false,
        devicePixelRatio: 1,
        events: [],
        layout: { padding: { left: 0, top: 29, right: p.padRight, bottom: 0 } },
        plugins: { legend: { display: false }, tooltip: { enabled: false } },
        scales: {
          x: {
            type: 'logarithmic',
            bounds: 'data',
            position: 'bottom',
            min: xMin,
            max: p.xMax,
            grid: { display: false },
            border: { display: true, color: '#000', width: 2 },
            ticks: {
              autoSkip: false,
              maxRotation: 0,
              minRotation: 0,
              padding: 4,
              color: '#000',
              font: { family: FONT, size: 23 },
              callback: (v: any) => {
                const k = near(Number(v), xMajorTicks);
                return k >= 0 ? xMajorLabels[k] : '';
              },
            },
            afterBuildTicks: (s: any) => {
              s.ticks = xTickValues.filter((v) => v <= p.xMax * 1.0001).map((v) => ({ value: v }));
            },
            afterFit: (s: any) => {
              s.height = 538 - 451;
            },
          },
          y: {
            type: 'logarithmic',
            bounds: 'data',
            position: 'left',
            min: yMin,
            max: yMax,
            grid: { display: false },
            border: { display: true, color: '#000', width: 2 },
            ticks: {
              autoSkip: false,
              padding: 4,
              color: '#000',
              font: { family: FONT, size: 22 },
              callback: (v: any) => {
                if (!p.showYLabels) return '';
                const k = near(Number(v), yMajorTicks);
                return k >= 0 ? yMajorLabels[k] : '';
              },
            },
            afterBuildTicks: (s: any) => {
              s.ticks = yTickValues.filter((v) => v >= yMin && v <= yMax).map((v) => ({ value: v }));
            },
            afterFit: (s: any) => {
              s.width = p.axisWidth;
            },
          },
        },
      } as any,
      plugins: [letterSpacingPlugin, tickMarksPlugin],
    });
    return () => chart.destroy();
  }, []);
  return (
    <canvas
      ref={ref}
      width={p.width}
      height={538}
      style={{ position: 'absolute', left: p.left, top: 0, width: p.width, height: 538 }}
    />
  );
}

export default function App() {
  return (
    <div
      style={{
        position: 'fixed',
        left: 0,
        top: 0,
        width: 1284,
        height: 538,
        background: '#fff',
        overflow: 'hidden',
        fontFamily: FONT,
      }}
    >
      <div
        style={{
          position: 'absolute',
          left: 9,
          top: 13,
          width: 1320,
          height: 580,
          border: '2px solid #2b2b2b',
          borderRadius: 14,
          boxSizing: 'border-box',
        }}
      />
      {PANELS.map((p, i) => (
        <Panel key={i} p={p} />
      ))}
      {PANELS.map((p, i) =>
        p.labels.map((lab: string, j: number) => (
          <div
            key={'lg' + i + j}
            style={{
              position: 'absolute',
              left: p.legendX,
              top: j === 0 ? 52 : 80.5,
              fontSize: 23,
              lineHeight: 1,
              letterSpacing: '1px',
              whiteSpace: 'nowrap',
              color: p.legendColors[j],
            }}
          >
            {'--- ' + lab}
          </div>
        ))
      )}
      {PANELS.map((p, i) => (
        <div
          key={'xt' + i}
          style={{
            position: 'absolute',
            left: p.titleX,
            top: 468,
            fontSize: 25,
            lineHeight: 1,
            letterSpacing: '2.5px',
            whiteSpace: 'nowrap',
            color: '#000',
          }}
        >
          q (nm<sup style={{ fontSize: 15, verticalAlign: 'super', lineHeight: 0 }}>-1</sup>)
        </div>
      ))}
      <div
        style={{
          position: 'absolute',
          left: 33,
          top: 373,
          width: 300,
          textAlign: 'center',
          transformOrigin: '0 0',
          transform: 'rotate(-90deg)',
          fontSize: 25,
          lineHeight: 1,
          letterSpacing: '2px',
          whiteSpace: 'nowrap',
          color: '#000',
        }}
      >
        Intensity(mm<sup style={{ fontSize: 15, verticalAlign: 'super', lineHeight: 0 }}>-1</sup>)
      </div>
      <div
        style={{
          position: 'absolute',
          left: 25,
          top: 511.5,
          fontFamily: '"Open Sans", "Noto Sans", sans-serif',
          fontSize: 18.6,
          lineHeight: 1,
          whiteSpace: 'nowrap',
          color: '#4a4a4a',
        }}
      >
        <b style={{ color: '#231f20' }}>Fig. 2</b> SAXS spectra. Intensity spectra of niosomes/vesicles without (black open
        symbols) and with DSPE-pHLIP (color symbols)
      </div>
    </div>
  );
}
